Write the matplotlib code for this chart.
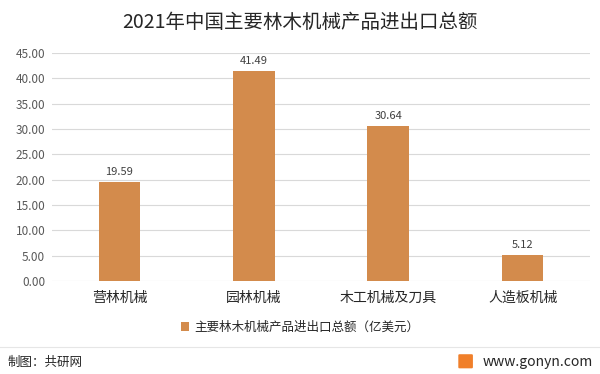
import matplotlib
matplotlib.use('Agg')
import matplotlib.pyplot as plt
from matplotlib.patches import FancyBboxPatch

plt.rcParams['font.family'] = ['Noto Sans CJK SC', 'DejaVu Sans']

categories = ['营林机械', '园林机械', '木工机械及刀具', '人造板机械']
values = [19.59, 41.49, 30.64, 5.12]
series_name = '主要林木机械产品进出口总额（亿美元）'
title = '2021年中国主要林木机械产品进出口总额'

bar_color = '#D38B4C'

fig = plt.figure(figsize=(6, 3.74), dpi=100)
ax = fig.add_axes([0.087, 0.249, 0.896, 0.609])

x = range(len(categories))
ax.bar(x, values, width=0.31, color=bar_color, label=series_name, zorder=3)

# Datenbeschriftung
for xi, v in zip(x, values):
    ax.text(xi, v + 0.9, f'{v:.2f}', ha='center', va='bottom', fontsize=8, color='#404040')

ax.set_xlim(-0.5, len(categories) - 0.5)
ax.set_ylim(0, 45)
ax.set_yticks([i * 5 for i in range(10)])
ax.set_yticklabels([f'{i * 5:.2f}' for i in range(10)], fontsize=8.5, color='#595959')
ax.set_xticks(list(x))
ax.set_xticklabels(categories, fontsize=10, color='#262626')
ax.tick_params(axis='both', length=0)
ax.tick_params(axis='x', pad=7)
ax.tick_params(axis='y', pad=5)
ax.grid(axis='y', color='#D9D9D9', linewidth=0.8, zorder=0)
for s in ax.spines.values():
    s.set_visible(False)

fig.text(0.5, 0.94, title, ha='center', va='center', fontsize=14, color='#262626')

leg = fig.legend(loc='center', bbox_to_anchor=(0.5, 0.125), frameon=False, fontsize=9,
                 handlelength=0.7, handleheight=0.7, handletextpad=0.4)
for t in leg.get_texts():
    t.set_color('#262626')

# Fusszeile
fig.add_artist(plt.Line2D([0, 1], [0.072, 0.072], color='#E6E6E6', linewidth=0.8,
                          transform=fig.transFigure))
fig.text(0.012, 0.032, '制图：共研网', ha='left', va='center', fontsize=9, color='#262626')
fig.add_artist(FancyBboxPatch((0.766, 0.018), 0.02, 0.032, boxstyle='round,pad=0.001',
                              color='#F07F2A', transform=fig.transFigure))
fig.text(0.988, 0.032, 'www.gonyn.com', ha='right', va='center', fontsize=10, color='#262626')

plt.savefig('out.png', dpi=100)
